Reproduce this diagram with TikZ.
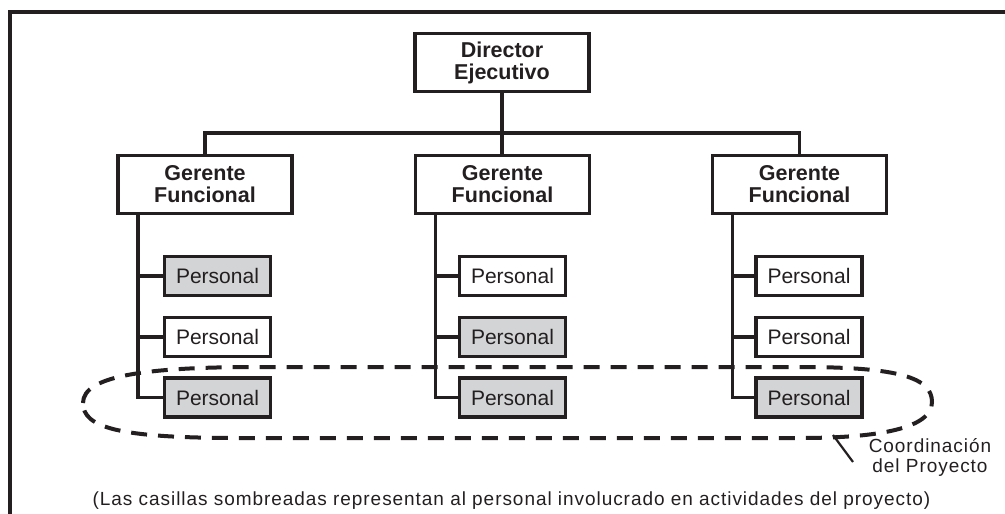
\documentclass[tikz,border=0pt]{standalone}
\usepackage{fontspec}
\setmainfont{Liberation Sans}
\newfontfamily\widefont[LetterSpace=5]{Liberation Sans}
\definecolor{ink}{RGB}{35,31,32}
\definecolor{shade}{RGB}{211,212,214}
\begin{document}
\begin{tikzpicture}[x=1pt,y=-1pt,
  boss/.style={draw=ink, line width=3.3pt, align=center, text=ink, inner sep=0pt,
    font=\fontsize{21.5}{22}\selectfont\bfseries, minimum width=174pt, minimum height=58pt},
  staff/.style={draw=ink, line width=3.3pt, fill=white, text=ink, inner sep=0pt,
    font=\fontsize{21}{22}\selectfont, minimum width=106pt, minimum height=39pt},
  busy/.style={staff, fill=shade},
  link/.style={draw=ink, line width=3.3pt},
  team/.style={draw=ink, line width=4pt, dash pattern=on 16pt off 11pt}]
\useasboundingbox (0,0) rectangle (1005,514);
\draw[link] (1005,12) -- (10,12) -- (10,514);
\node[boss] (dir) at (502,62.5) {Director\\Ejecutivo};
\node[boss] (gf1) at (205,184.5) {Gerente\\Funcional};
\node[boss] (gf2) at (502.5,184.5) {Gerente\\Funcional};
\node[boss] (gf3) at (799.5,184.5) {Gerente\\Funcional};
\coordinate (bus) at (502,133);
\draw[link] (dir.south) -- (dir.south |- gf2.north);
\draw[link] (gf1.north) |- (bus) -| (gf3.north);
% personal
\node[busy]  (p11) at (217.5,276) {Personal};
\node[staff] (p12) at (217.5,337) {Personal};
\node[busy]  (p13) at (217.5,397.5) {Personal};
\node[staff] (p21) at (512.5,276) {Personal};
\node[busy]  (p22) at (512.5,337) {Personal};
\node[busy]  (p23) at (512.5,397.5) {Personal};
\node[staff] (p31) at (809,276) {Personal};
\node[staff] (p32) at (809,337) {Personal};
\node[busy]  (p33) at (809,397.5) {Personal};
\coordinate (s1) at ([xshift=21.5pt]gf1.south west);
\coordinate (s2) at ([xshift=21.5pt]gf2.south west);
\coordinate (s3) at ([xshift=21.5pt]gf3.south west);
\draw[link] (s1) |- (p13.west);
\draw[link] (p11.west) -- (p11.west -| s1);
\draw[link] (p12.west) -- (p12.west -| s1);
\draw[link] (s2) |- (p23.west);
\draw[link] (p21.west) -- (p21.west -| s2);
\draw[link] (p22.west) -- (p22.west -| s2);
\draw[link] (s3) |- (p33.west);
\draw[link] (p31.west) -- (p31.west -| s3);
\draw[link] (p32.west) -- (p32.west -| s3);
% coordinacion
\draw[team] (83,403) .. controls (83,375) and (150,367) .. (260,367) -- (800,367)
  .. controls (900,367) and (932,378) .. (932,402)
  .. controls (932,428) and (880,438) .. (800,438) -- (240,438)
  .. controls (120,438) and (83,428) .. (83,403) -- cycle;
\node[text=ink, align=center, inner sep=0pt, font=\fontsize{19}{20}\selectfont\widefont]
  (coord) at (930,457) {Coordinación\\del Proyecto};
\coordinate (lead) at (833,435);
\coordinate (tip) at (853,462);
\draw[draw=ink, line width=2.2pt] (lead) -- (tip);
\node[text=ink, anchor=base, inner sep=0pt, font=\fontsize{19}{20}\selectfont\widefont]
  (note) at (511.5,505) {(Las casillas sombreadas representan al personal involucrado en actividades del proyecto)};
\end{tikzpicture}
\end{document}
